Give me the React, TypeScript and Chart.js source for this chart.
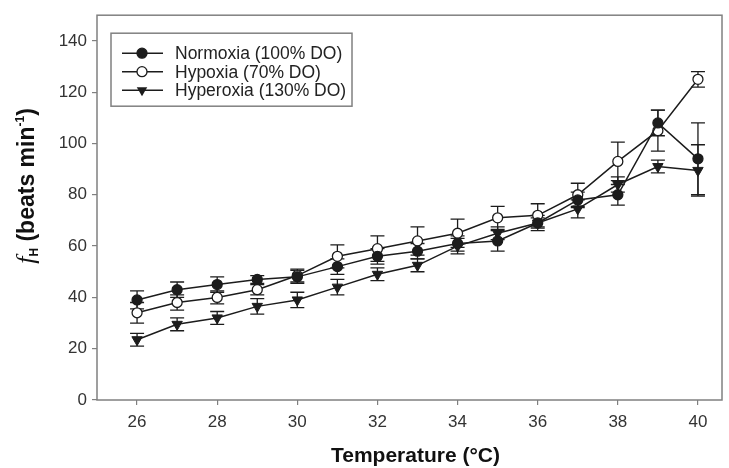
import React, { useEffect, useRef } from 'react';
import { Chart, registerables } from 'chart.js';

Chart.register(...registerables);

const temperatures = [26, 27, 28, 29, 30, 31, 32, 33, 34, 35, 36, 37, 38, 39, 40];
const normoxia = [39, 43, 45, 47, 48, 52, 56, 58, 61, 62, 69, 78, 80, 108, 94];
const normoxiaErr = [3.5, 3, 3, 1.5, 2.5, 3, 3, 3, 3, 4, 2, 3, 4, 5, 14];
const hypoxia = [34, 38, 40, 43, 48.5, 56, 59, 62, 65, 71, 72, 80, 93, 105, 125];
const hypoxiaErr = [4, 3, 2.5, 2, 2.5, 4.5, 5, 5.5, 5.5, 4.5, 4.5, 4.5, 7.5, 8, 3];
const hyperoxia = [23.5, 29.5, 32, 36.5, 39, 44, 49, 52.5, 60, 65, 69, 74.5, 84, 91, 89.5];
const hyperoxiaErr = [2.5, 2.5, 2.5, 3, 3, 3, 2.5, 2.5, 3, 2.5, 3, 3.5, 3, 2.5, 10];

const xTickValues = [26, 28, 30, 32, 34, 36, 38, 40];
const yTickValues = [0, 20, 40, 60, 80, 100, 120, 140];
const seriesLabels = ['Normoxia (100% DO)', 'Hypoxia (70% DO)', 'Hyperoxia (130% DO)'];
const xTitle = 'Temperature (°C)';

const INK = '#1c1c1c';
const AXIS = '#808080';
const FONT = "'Liberation Sans', Arial, sans-serif";

function drawMarker(ctx: CanvasRenderingContext2D, kind: number, x: number, y: number) {
  ctx.save();
  ctx.lineWidth = 1.3;
  ctx.strokeStyle = INK;
  if (kind === 2) {
    const r = 6;
    ctx.beginPath();
    ctx.moveTo(x - r * 0.87, y - r * 0.5);
    ctx.lineTo(x + r * 0.87, y - r * 0.5);
    ctx.lineTo(x, y + r);
    ctx.closePath();
    ctx.fillStyle = INK;
    ctx.fill();
  } else {
    ctx.beginPath();
    ctx.arc(x, y, 5, 0, Math.PI * 2);
    ctx.fillStyle = kind === 0 ? INK : '#ffffff';
    ctx.fill();
    ctx.stroke();
  }
  ctx.restore();
}

export default function App() {
  const ref = useRef<HTMLCanvasElement>(null);

  useEffect(() => {
    if (!ref.current) return;
    const errs = [normoxiaErr, hypoxiaErr, hyperoxiaErr];

    const errorBars = {
      id: 'errorBars',
      beforeDatasetsDraw(chart: any) {
        const ctx = chart.ctx;
        const xs = chart.scales.x;
        const ys = chart.scales.y;
        ctx.save();
        ctx.strokeStyle = INK;
        ctx.lineWidth = 1.3;
        chart.data.datasets.forEach((ds: any, i: number) => {
          ds.data.forEach((p: any, j: number) => {
            const e = errs[i][j];
            const x = xs.getPixelForValue(p.x);
            const y1 = ys.getPixelForValue(p.y + e);
            const y2 = ys.getPixelForValue(p.y - e);
            ctx.beginPath();
            ctx.moveTo(x, y1);
            ctx.lineTo(x, y2);
            ctx.moveTo(x - 7, y1);
            ctx.lineTo(x + 7, y1);
            ctx.moveTo(x - 7, y2);
            ctx.lineTo(x + 7, y2);
            ctx.stroke();
          });
        });
        ctx.restore();
      },
    };

    const frameAndText = {
      id: 'frameAndText',
      afterDraw(chart: any) {
        const ctx = chart.ctx;
        const a = chart.chartArea;
        ctx.save();
        // frame
        ctx.strokeStyle = AXIS;
        ctx.lineWidth = 1.5;
        ctx.strokeRect(a.left, a.top, a.right - a.left, a.bottom - a.top);

        // legend
        const lx = a.left + 14;
        const ly = a.top + 18;
        ctx.strokeRect(lx, ly, 241, 73);
        ctx.font = `17.5px ${FONT}`;
        ctx.textBaseline = 'middle';
        ctx.textAlign = 'left';
        seriesLabels.forEach((label, i) => {
          const y = ly + 20 + i * 18.5;
          ctx.strokeStyle = INK;
          ctx.lineWidth = 1.5;
          ctx.beginPath();
          ctx.moveTo(lx + 11, y);
          ctx.lineTo(lx + 52, y);
          ctx.stroke();
          drawMarker(ctx, i, lx + 31, y);
          ctx.fillStyle = '#222';
          ctx.fillText(label, lx + 64, y + 1);
        });

        // x title
        ctx.fillStyle = '#111';
        ctx.font = `bold 21px ${FONT}`;
        ctx.textAlign = 'center';
        ctx.textBaseline = 'middle';
        ctx.fillText(xTitle, (a.left + a.right) / 2 + 6, 456);

        // y title (rotated, mixed styles)
        const segs = [
          { t: 'f', f: `italic 26px 'Liberation Serif', serif`, dy: 0 },
          { t: 'H', f: `bold 12px ${FONT}`, dy: 4 },
          { t: ' (beats min', f: `bold 23px ${FONT}`, dy: 0 },
          { t: '-1', f: `bold 12px ${FONT}`, dy: -10 },
          { t: ')', f: `bold 23px ${FONT}`, dy: 0 },
        ];
        let total = 0;
        segs.forEach((s) => {
          ctx.font = s.f;
          total += ctx.measureText(s.t).width;
        });
        ctx.translate(26, 186);
        ctx.rotate(-Math.PI / 2);
        ctx.textAlign = 'left';
        ctx.textBaseline = 'alphabetic';
        let cx = -total / 2;
        segs.forEach((s) => {
          ctx.font = s.f;
          ctx.fillText(s.t, cx, 8 + s.dy);
          cx += ctx.measureText(s.t).width;
        });
        ctx.restore();
      },
    };

    const mk = (arr: number[]) => temperatures.map((t, i) => ({ x: t, y: arr[i] }));

    const chart = new Chart(ref.current, {
      type: 'line',
      data: {
        datasets: [
          {
            label: seriesLabels[0],
            data: mk(normoxia),
            borderColor: INK,
            borderWidth: 1.5,
            pointStyle: 'circle',
            pointRadius: 5,
            pointBackgroundColor: INK,
            pointBorderColor: INK,
            pointBorderWidth: 1.3,
          },
          {
            label: seriesLabels[1],
            data: mk(hypoxia),
            borderColor: INK,
            borderWidth: 1.5,
            pointStyle: 'circle',
            pointRadius: 5,
            pointBackgroundColor: '#ffffff',
            pointBorderColor: INK,
            pointBorderWidth: 1.3,
          },
          {
            label: seriesLabels[2],
            data: mk(hyperoxia),
            borderColor: INK,
            borderWidth: 1.5,
            pointStyle: 'triangle',
            rotation: 180,
            pointRadius: 6,
            pointBackgroundColor: INK,
            pointBorderColor: INK,
            pointBorderWidth: 1,
          },
        ],
      },
      options: {
        responsive: false,
        animation: false,
        events: [],
        layout: { padding: { top: 7, right: 7, left: 0, bottom: 0 } },
        plugins: { legend: { display: false }, tooltip: { enabled: false } },
        scales: {
          x: {
            type: 'linear',
            min: 25,
            max: 40.6,
            afterBuildTicks: (s: any) => {
              s.ticks = xTickValues.map((v) => ({ value: v }));
            },
            afterFit: (s: any) => {
              s.height = 68;
            },
            grid: { drawOnChartArea: false, drawTicks: true, tickLength: 5, color: AXIS, lineWidth: 1.2 },
            border: { display: false },
            ticks: { color: '#333', font: { family: FONT, size: 17 }, padding: 7, maxRotation: 0 },
          },
          y: {
            type: 'linear',
            min: 0,
            max: 150,
            afterBuildTicks: (s: any) => {
              s.ticks = yTickValues.map((v) => ({ value: v }));
            },
            afterFit: (s: any) => {
              s.width = 97;
            },
            grid: { drawOnChartArea: false, drawTicks: true, tickLength: 5, color: AXIS, lineWidth: 1.2 },
            border: { display: false },
            ticks: { color: '#333', font: { family: FONT, size: 17 }, padding: 5 },
          },
        },
      },
      plugins: [errorBars, frameAndText],
    });
    return () => chart.destroy();
  }, []);

  return (
    <div style={{ position: 'absolute', left: 0, top: 0, width: 729, height: 468, background: '#fff' }}>
      <canvas ref={ref} width={729} height={468} style={{ display: 'block' }} />
    </div>
  );
}
